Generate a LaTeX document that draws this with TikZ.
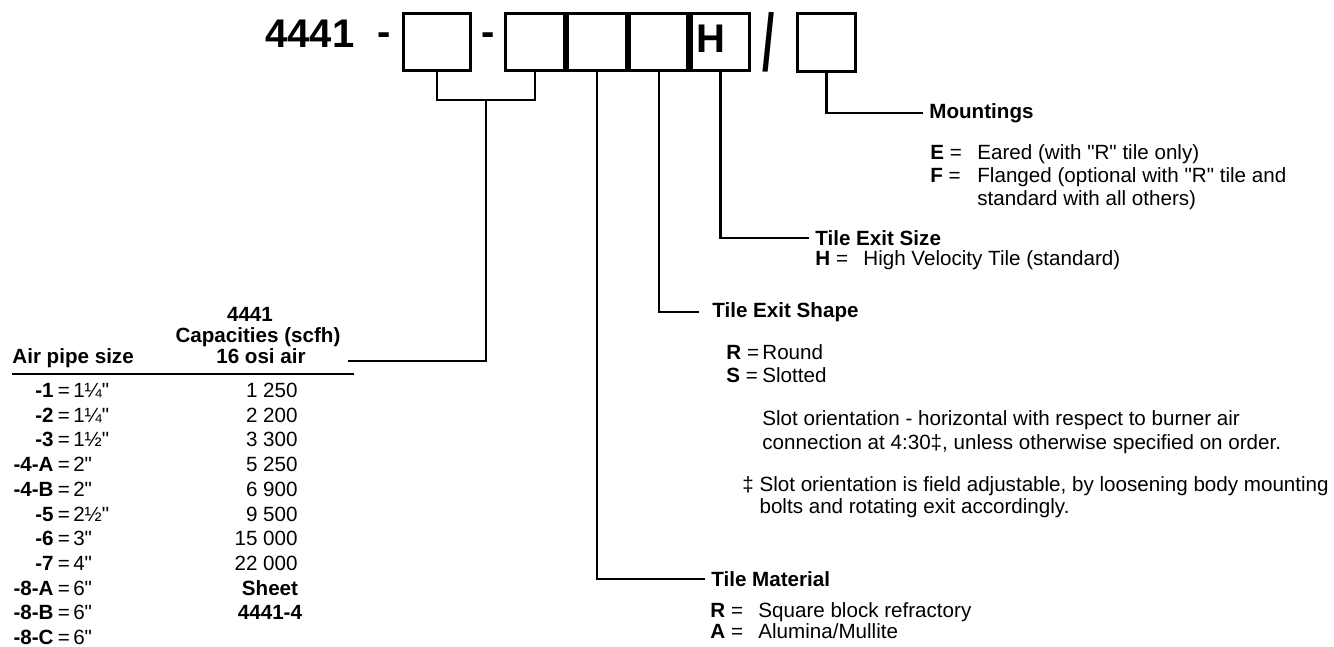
\documentclass[tikz,border=0pt]{standalone}
\usepackage{fontspec}
\setmainfont{Liberation Sans}[Ligatures=TeXOff]
\usepackage{graphicx}
\usepackage{tikz}
\usetikzlibrary{positioning}

% key = value line with a fixed key width
\newcommand{\optkey}[3]{\makebox[#1][l]{\textbf{#2} =}#3}

\begin{document}
\begin{tikzpicture}[x=0.5pt,y=-0.5pt,
	box/.style={draw,line width=1.6pt,minimum width=29.3pt,minimum height=28.8pt,inner sep=0pt},
	conn/.style={line width=1.1pt},
	big/.style={font=\bfseries\fontsize{20}{24}\selectfont,inner sep=0pt},
	head/.style={font=\bfseries\fontsize{10.3}{12.4}\selectfont,inner sep=3pt},
	txt/.style={font=\fontsize{10.3}{#1}\selectfont,inner sep=0pt},
	txt/.default=12.4]

	\useasboundingbox (0,0) rectangle (1334,647);

	% model number
	\node[big,anchor=base] (num) at (310,48) {4441};
	\node[big,anchor=base] (dsh1) at (384,46) {-};
	\node[box,minimum width=33.5pt] (b1) at (437,42) {};
	\node[big,anchor=base] (dsh2) at (488,46) {-};
	\node[box] (c1) at (535,42) {};
	\node[box,right=0pt of c1] (c2) {};
	\node[box,right=0pt of c2] (c3) {};
	\node[box,right=0pt of c3] (c4) {};
	\node[big,anchor=base] (hlet) at (711,53) {H};
	\node[font=\bfseries\fontsize{40}{40}\selectfont,inner sep=0pt] (slash) at (769,42) {\scalebox{0.55}[1]{/}};
	\node[box] (mnt) at (826.5,42.5) {};

	% air pipe size
	\coordinate (brk) at (486,100);
	\coordinate (capend) at (348,361);
	\draw[conn] (b1.south) |- (brk) -| (c1.south);
	\draw[conn] (brk) |- (capend);

	\node[head,anchor=base,inner sep=0pt] (cap1) at (250,321) {4441};
	\node[head,anchor=base,inner sep=0pt] (cap2) at (258,342) {Capacities (scfh)};
	\node[head,anchor=base,inner sep=0pt] (cap3) at (261,363.5) {16 osi air};
	\node[head,anchor=base west,inner sep=0pt] (pipe) at (12,363.5) {Air pipe size};
	\draw[line width=0.9pt] (12,374) -- (354,374);

	\foreach \code/\size [count=\i from 0] in {-1/1¼", -2/1¼", -3/1½", -4-A/2", -4-B/2", -5/2½", -6/3", -7/4", -8-A/6", -8-B/6", -8-C/6"}{
		\node[txt,anchor=base east] (code\i) at (54,{397.5+24.7*\i}) {\textbf{\code}};
		\node[txt,anchor=base west] (size\i) at (code\i.base east) {\,=\,\size};
	}
	\foreach \flow [count=\i from 0] in {1 250, 2 200, 3 300, 5 250, 6 900, 9 500, 15 000, 22 000}
		\node[txt,anchor=base east] (flow\i) at (298,{397.5+24.7*\i}) {\flow};
	\node[head,anchor=base,inner sep=0pt] (sheet) at (270,{397.5+24.7*8}) {Sheet};
	\node[head,anchor=base,inner sep=0pt] (sheetno) at (270,{397.5+24.7*9}) {4441-4};

	% mountings
	\node[head,anchor=west] (mlab) at (923,113) {Mountings};
	\draw[conn] (mnt.south) |- (mlab.west);
	\node[txt=11.5,anchor=base west] (mlist) at (930,159.5) {\begin{tabular}[t]{@{}l@{}}
		\optkey{23.5pt}{E}{Eared (with "R" tile only)}\\
		\optkey{23.5pt}{F}{Flanged (optional with "R" tile and}\\
		\makebox[23.5pt]{}standard with all others)\end{tabular}};

	% tile exit size
	\node[head,anchor=west] (slab) at (809,238) {Tile Exit Size};
	\draw[conn] (c4.south) |- (slab.west);
	\node[txt,anchor=base west] (slist) at (815,265.5) {\optkey{24pt}{H}{High Velocity Tile (standard)}};

	% tile exit shape
	\node[head,anchor=west,inner xsep=6.5pt] (shlab) at (699,312) {Tile Exit Shape};
	\draw[conn] (c3.south) |- (shlab.west);
	\node[txt=11.5,anchor=base west] (shlist) at (726,359.5) {\begin{tabular}[t]{@{}l@{}}
		\optkey{18pt}{R}{Round}\\
		\optkey{18pt}{S}{Slotted}\end{tabular}};
	\node[txt=12,anchor=base west] (slot) at (762,425.5) {\begin{tabular}[t]{@{}l@{}}
		Slot orientation - horizontal with respect to burner air\\
		connection at 4:30‡, unless otherwise specified on order.\end{tabular}};
	\node[txt=11,anchor=base west] (adj) at (742,491.5) {\begin{tabular}[t]{@{}l@{ }l@{}}
		‡ & Slot orientation is field adjustable, by loosening body mounting\\
		& bolts and rotating exit accordingly.\end{tabular}};

	% tile material
	\node[head,anchor=west] (tmlab) at (705,579) {Tile Material};
	\draw[conn] (c2.south) |- (tmlab.west);
	\node[txt=10,anchor=base west] (tmlist) at (710,617.5) {\begin{tabular}[t]{@{}l@{}}
		\optkey{24pt}{R}{Square block refractory}\\
		\optkey{24pt}{A}{Alumina/Mullite}\end{tabular}};
\end{tikzpicture}
\end{document}
